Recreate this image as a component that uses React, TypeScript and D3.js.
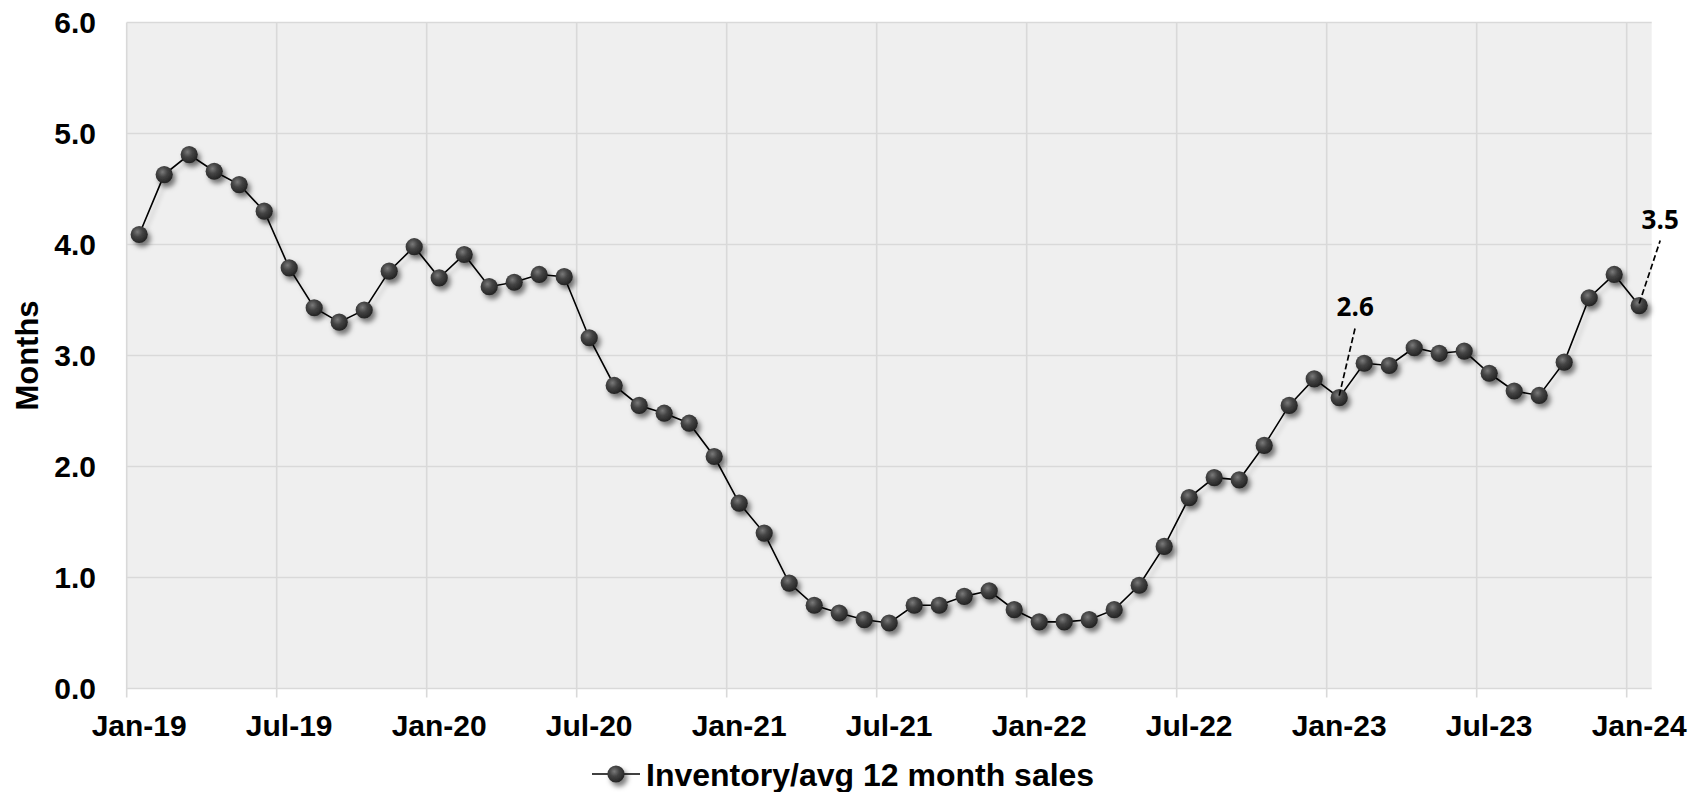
import React from "react";
import * as d3 from "d3";

const values: number[] = [
  4.09, 4.63, 4.81, 4.66, 4.54, 4.30, 3.79, 3.43, 3.30, 3.41, 3.76, 3.98,
  3.70, 3.91, 3.62, 3.66, 3.73, 3.71, 3.16, 2.73, 2.55, 2.48, 2.39, 2.09,
  1.67, 1.40, 0.95, 0.75, 0.68, 0.62, 0.59, 0.75, 0.75, 0.83, 0.88, 0.71,
  0.60, 0.60, 0.62, 0.71, 0.93, 1.28, 1.72, 1.90, 1.88, 2.19, 2.55, 2.79,
  2.62, 2.93, 2.91, 3.07, 3.02, 3.04, 2.84, 2.68, 2.64, 2.94, 3.52, 3.73,
  3.45,
];
const startDate = new Date(2019, 0, 1);
const tickLabels: string[] = [
  "Jan-19", "Jul-19", "Jan-20", "Jul-20", "Jan-21", "Jul-21",
  "Jan-22", "Jul-22", "Jan-23", "Jul-23", "Jan-24",
];
const tickMonthIdx: number[] = [0, 6, 12, 18, 24, 30, 36, 42, 48, 54, 60];
const yTicks: number[] = [0, 1, 2, 3, 4, 5, 6];
const annotations = [
  { index: 48, text: "2.6", dx: 16, dy: -82 },
  { index: 60, text: "3.5", dx: 21, dy: -77 },
];
const seriesName = "Inventory/avg 12 month sales";
const yTitle = "Months";

const W = 1698;
const H = 792;
const L = 126.7;
const R = 1651.7;
const T = 22.5;
const B = 688.5;

export default function App() {
  const months = d3.timeMonth.range(startDate, d3.timeMonth.offset(startDate, values.length));
  const x = d3.scaleLinear().domain([0, months.length]).range([L, R]);
  const y = d3.scaleLinear().domain([0, 6]).range([B, T]);
  const px = (i: number) => x(i + 0.5);
  const line = d3
    .line<number>()
    .x((_, i) => px(i))
    .y((d) => y(d));
  const font = "'Liberation Sans', Arial, sans-serif";

  return (
    <svg
      width={W}
      height={H}
      style={{ position: "absolute", left: 0, top: 0, background: "#fff" }}
      fontFamily={font}
    >
      <defs>
        <radialGradient id="ball" cx="40%" cy="35%" r="65%">
          <stop offset="0%" stopColor="#7a7a7a" />
          <stop offset="45%" stopColor="#444" />
          <stop offset="100%" stopColor="#232323" />
        </radialGradient>
        <filter id="shadow" x="-50%" y="-50%" width="200%" height="200%">
          <feGaussianBlur in="SourceGraphic" stdDeviation="0.6" result="soft" />
          <feDropShadow in="soft" dx="3" dy="4" stdDeviation="2.6" floodColor="#000" floodOpacity="0.5" />
        </filter>
        <filter id="lshadow" x="-5%" y="-5%" width="110%" height="110%">
          <feDropShadow dx="3" dy="4" stdDeviation="2" floodColor="#000" floodOpacity="0.2" />
        </filter>
      </defs>

      <rect x={L} y={T} width={R - L} height={B - T} fill="#efefef" />

      {yTicks.map((t) => (
        <line key={"gy" + t} x1={L} x2={R} y1={y(t)} y2={y(t)} stroke="#d9d9d9" strokeWidth={1.6} />
      ))}
      {tickMonthIdx.map((m) => (
        <line key={"gx" + m} x1={x(m)} x2={x(m)} y1={T} y2={B + 9} stroke="#d9d9d9" strokeWidth={1.6} />
      ))}

      {yTicks.map((t) => (
        <text
          key={"yl" + t}
          x={96}
          y={y(t)}
          dy="0.36em"
          textAnchor="end"
          fontSize={30}
          fontWeight="bold"
          fill="#000"
        >
          {t.toFixed(1)}
        </text>
      ))}
      {tickMonthIdx.map((m, i) => (
        <text
          key={"xl" + m}
          x={x(m + 0.5)}
          y={736}
          textAnchor="middle"
          fontSize={30}
          fontWeight="bold"
          fill="#000"
        >
          {tickLabels[i]}
        </text>
      ))}

      <text
        transform={`translate(38,${(T + B) / 2}) rotate(-90)`}
        textAnchor="middle"
        fontSize={31}
        fontWeight="bold"
        fill="#000"
      >
        {yTitle}
      </text>

      <path d={line(values) || ""} fill="none" stroke="#000" strokeWidth={1.6} filter="url(#lshadow)" />
      <g filter="url(#shadow)">
        {values.map((v, i) => (
          <circle key={"p" + i} cx={px(i)} cy={y(v)} r={8.6} fill="url(#ball)" />
        ))}
      </g>

      {annotations.map((a) => {
        const cx = px(a.index);
        const cy = y(values[a.index]);
        const lx = cx + a.dx;
        const ly = cy + a.dy;
        return (
          <g key={"a" + a.index}>
            <line x1={cx} y1={cy - 2} x2={lx} y2={ly + 12} stroke="#000" strokeWidth={1.7} strokeDasharray="6,3" />
            <text
              x={lx}
              y={ly}
              textAnchor="middle"
              fontSize={26}
              fontWeight="bold"
              fontFamily="'Open Sans', 'Noto Sans', sans-serif"
              fill="#000"
            >
              {a.text}
            </text>
          </g>
        );
      })}

      <g>
        <line x1={592} x2={640} y1={774} y2={774} stroke="#000" strokeWidth={1.6} />
        <circle cx={616} cy={774} r={8.6} fill="url(#ball)" filter="url(#shadow)" />
        <text x={646} y={786} fontSize={32} fontWeight="bold" fill="#000">
          {seriesName}
        </text>
      </g>
    </svg>
  );
}
